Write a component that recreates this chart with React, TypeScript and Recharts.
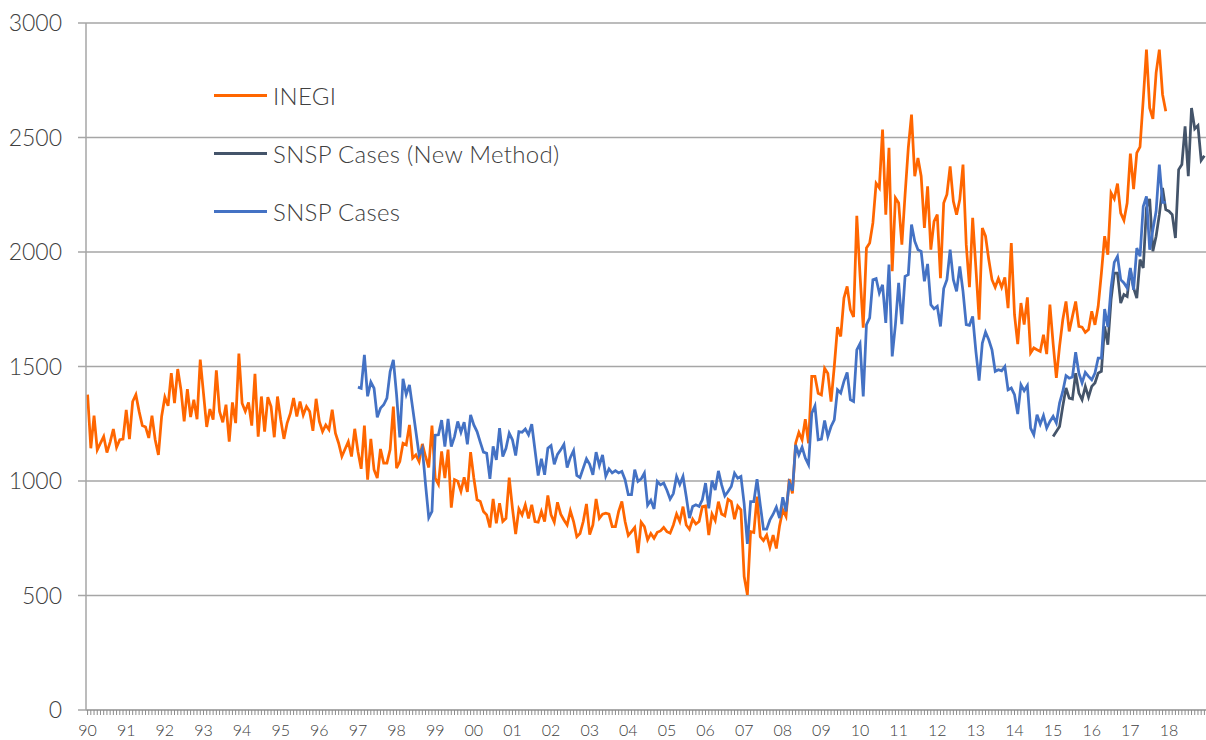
import React from "react";
import { LineChart, Line, XAxis, YAxis, CartesianGrid, Legend } from "recharts";

// monthly values, one row per year (Jan..Dec)
// INEGI: Jan 1990 - Dec 2017
const inegi: number[] = [
  1377, 1143, 1285, 1136, 1165, 1194, 1124, 1170, 1227, 1147, 1180, 1183,
  1311, 1183, 1347, 1377, 1304, 1242, 1236, 1188, 1285, 1180, 1114, 1282,
  1366, 1328, 1471, 1340, 1489, 1399, 1260, 1401, 1279, 1355, 1270, 1530,
  1384, 1236, 1314, 1268, 1483, 1304, 1256, 1333, 1172, 1343, 1253, 1556,
  1340, 1304, 1343, 1242, 1468, 1194, 1369, 1216, 1366, 1325, 1191, 1369,
  1268, 1184, 1253, 1295, 1362, 1282, 1347, 1288, 1325, 1303, 1219, 1359,
  1260, 1216, 1245, 1224, 1311, 1209, 1165, 1107, 1140, 1172, 1107, 1228,
  1129, 1053, 1242, 1006, 1184, 1049, 1013, 1140, 1078, 1078, 1137, 1325,
  1056, 1085, 1165, 1158, 1245, 1100, 1114, 1085, 1162, 1107, 1059, 1242,
  1013, 986, 1129, 1013, 1137, 884, 1006, 999, 955, 1016, 952, 1126,
  1013, 918, 911, 867, 852, 797, 922, 815, 903, 823, 837, 1015,
  881, 768, 878, 852, 896, 837, 896, 823, 820, 867, 823, 937,
  852, 820, 907, 855, 830, 808, 870, 823, 757, 771, 823, 900,
  766, 808, 922, 837, 855, 859, 855, 801, 801, 867, 911, 823,
  762, 779, 797, 685, 820, 801, 743, 771, 750, 776, 782, 797,
  779, 772, 808, 856, 823, 888, 808, 789, 833, 812, 823, 888,
  891, 764, 856, 827, 910, 856, 848, 920, 910, 833, 891, 874,
  583, 503, 779, 775, 932, 757, 740, 764, 710, 764, 705, 804,
  874, 845, 1008, 946, 1165, 1212, 1180, 1270, 1165, 1457, 1457, 1383,
  1376, 1492, 1470, 1347, 1500, 1672, 1631, 1799, 1850, 1748, 1716, 2158,
  1900, 1670, 2018, 2039, 2127, 2300, 2280, 2535, 2163, 2455, 1916, 2236,
  2214, 2032, 2251, 2455, 2600, 2331, 2411, 2331, 2105, 2287, 2010, 2134,
  2163, 1886, 2214, 2251, 2374, 2221, 2163, 2229, 2382, 2032, 1846, 2149,
  1930, 1704, 2105, 2069, 1967, 1879, 1846, 1884, 1846, 1889, 1755, 2039,
  1726, 1598, 1777, 1683, 1802, 1559, 1581, 1573, 1566, 1639, 1554, 1770,
  1600, 1450, 1588, 1704, 1784, 1653, 1719, 1784, 1675, 1672, 1649, 1661,
  1741, 1682, 1763, 1908, 2069, 1988, 2258, 2232, 2299, 2170, 2138, 2214,
  2430, 2275, 2433, 2459, 2666, 2884, 2629, 2581, 2782, 2884, 2688, 2615,
];

// SNSP Cases: Jan 1997 - Dec 2017
const snspCases: number[] = [
  1410, 1405, 1551, 1370, 1432, 1405, 1278, 1318, 1333, 1362, 1478, 1529,
  1376, 1190, 1446, 1378, 1420, 1318, 1216, 1114, 1143, 985, 840, 867,
  1200, 1202, 1266, 1150, 1271, 1150, 1194, 1260, 1213, 1257, 1160, 1289,
  1245, 1216, 1170, 1126, 1121, 1009, 1151, 1092, 1231, 1107, 1143, 1209,
  1180, 1111, 1216, 1213, 1227, 1202, 1248, 1136, 1024, 1097, 1027, 1143,
  1155, 1073, 1116, 1136, 1160, 1059, 1103, 1133, 1024, 1015, 1056, 1097,
  1073, 1027, 1126, 1068, 1114, 1021, 1053, 1035, 1045, 1035, 1042, 1006,
  940, 940, 1050, 998, 1009, 1035, 894, 916, 878, 998, 983, 991,
  960, 921, 945, 1020, 985, 1020, 932, 838, 889, 896, 889, 918,
  991, 881, 1002, 961, 1044, 983, 935, 954, 976, 1034, 1012, 1020,
  900, 725, 910, 910, 1008, 896, 790, 790, 830, 855, 886, 838,
  929, 867, 991, 958, 1158, 1114, 1148, 1100, 1071, 1296, 1328, 1180,
  1183, 1264, 1194, 1238, 1267, 1398, 1384, 1435, 1474, 1355, 1347, 1573,
  1600, 1369, 1683, 1712, 1879, 1884, 1821, 1857, 1690, 1945, 1544, 1683,
  1865, 1685, 1894, 1901, 2120, 2047, 2010, 2003, 1872, 1948, 1770, 1752,
  1763, 1675, 1840, 1879, 2010, 1879, 1828, 1937, 1828, 1683, 1680, 1719,
  1566, 1438, 1602, 1650, 1617, 1573, 1479, 1486, 1481, 1500, 1398, 1406,
  1377, 1292, 1420, 1394, 1417, 1231, 1202, 1289, 1248, 1286, 1231, 1260,
  1282, 1253, 1340, 1391, 1460, 1449, 1454, 1562, 1471, 1428, 1474, 1457,
  1442, 1471, 1537, 1537, 1751, 1672, 1843, 1955, 1981, 1879, 1865, 1843,
  1930, 1835, 2017, 1981, 2199, 2243, 2010, 2098, 2178, 2382, 2217, 2217,
];

// SNSP Cases (New Method): Jan 2015 - Dec 2018
const snspNewMethod: number[] = [
  1194, 1216, 1238, 1326, 1406, 1362, 1358, 1471, 1384, 1355, 1413, 1366,
  1413, 1428, 1471, 1479, 1675, 1595, 1792, 1908, 1908, 1777, 1814, 1806,
  1923, 1843, 1799, 1967, 1930, 2192, 2232, 2003, 2069, 2163, 2280, 2185,
  2178, 2163, 2061, 2360, 2382, 2549, 2331, 2629, 2538, 2552, 2400, 2420,
];

const yearLabels = [
  "90", "91", "92", "93", "94", "95", "96", "97", "98", "99",
  "00", "01", "02", "03", "04", "05", "06", "07", "08", "09",
  "10", "11", "12", "13", "14", "15", "16", "17", "18",
];
const yTicks = [0, 500, 1000, 1500, 2000, 2500, 3000];

const SERIES = [
  { key: "inegi", name: "INEGI", color: "#FF6600" },
  { key: "snspNew", name: "SNSP Cases (New Method)", color: "#44546A" },
  { key: "snsp", name: "SNSP Cases", color: "#4472C4" },
];

const FONT = "Lato, 'Open Sans', sans-serif";
const GRID = "#A6A6A6";
const TEXT = "#404040";
const TICK_SIZE = 5;
const TICK_MARGIN = 10;

const snspStart = 7 * 12; // 1997
const newStart = 25 * 12; // 2015
const months = yearLabels.length * 12;

const data = Array.from({ length: months }, (_, i) => ({
  i,
  inegi: i < inegi.length ? inegi[i] : null,
  snsp:
    i >= snspStart && i - snspStart < snspCases.length
      ? snspCases[i - snspStart]
      : null,
  snspNew:
    i >= newStart && i - newStart < snspNewMethod.length
      ? snspNewMethod[i - newStart]
      : null,
}));
const monthTicks = data.map((d) => d.i);

// month tick mark + year label on Januaries
const MonthTick = (props: any) => {
  const { x, y, payload } = props;
  const v = payload.value as number;
  const axisY = y - TICK_SIZE - TICK_MARGIN;
  return (
    <g>
      <line x1={x} x2={x} y1={axisY} y2={axisY + TICK_SIZE} stroke="#8C8C8C" strokeWidth={1} />
      {v % 12 === 0 && (
        <text
          x={x}
          y={y}
          dy="0.71em"
          textAnchor="middle"
          fill={TEXT}
          fontSize={16}
          fontWeight={300}
          fontFamily={FONT}
        >
          {yearLabels[v / 12]}
        </text>
      )}
    </g>
  );
};

const renderLegend = () => (
  <div
    style={{
      fontFamily: FONT,
      fontSize: 24,
      fontWeight: 300,
      letterSpacing: 0.3,
      color: TEXT,
    }}
  >
    {SERIES.map((s) => (
      <div
        key={s.key}
        style={{ display: "flex", alignItems: "center", height: 58 }}
      >
        <span
          style={{
            display: "inline-block",
            width: 53,
            height: 3,
            background: s.color,
            marginRight: 6,
          }}
        />
        <span style={{ whiteSpace: "nowrap" }}>{s.name}</span>
      </div>
    ))}
  </div>
);

export default function App() {
  return (
    <div style={{ position: "absolute", left: 0, top: 0, fontFamily: FONT }}>
      <LineChart
        width={1206}
        height={740}
        data={data}
        margin={{ top: 23, right: 0, bottom: 0, left: 0 }}
      >
        <CartesianGrid vertical={false} stroke={GRID} strokeWidth={1.5} />
        <XAxis
          dataKey="i"
          type="number"
          domain={[-0.5, months - 0.5]}
          ticks={monthTicks}
          interval={0}
          height={30}
          tickSize={TICK_SIZE}
          tickMargin={TICK_MARGIN}
          stroke={GRID}
          strokeWidth={1.5}
          tickLine={false}
          tick={<MonthTick />}
        />
        <YAxis
          domain={[0, 3000]}
          ticks={yTicks}
          width={86}
          tickSize={8}
          tickMargin={16}
          stroke={GRID}
          strokeWidth={1.5}
          tick={{ fill: TEXT, fontSize: 23, fontWeight: 300, fontFamily: FONT }}
        />
        <Legend
          layout="vertical"
          verticalAlign="middle"
          align="center"
          content={renderLegend}
          wrapperStyle={{ left: 214, top: 66, width: "auto" }}
        />
        {SERIES.map((s) => (
          <Line
            key={s.key}
            type="linear"
            dataKey={s.key}
            name={s.name}
            stroke={s.color}
            strokeWidth={2.75}
            dot={false}
            activeDot={false}
            isAnimationActive={false}
          />
        ))}
      </LineChart>
    </div>
  );
}
